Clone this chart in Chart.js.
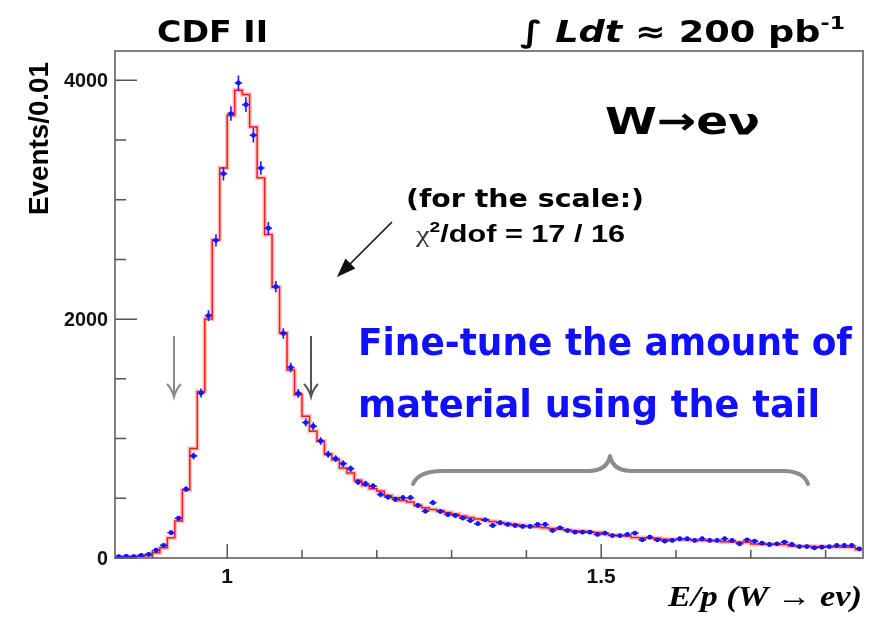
<!DOCTYPE html>
<html><head><meta charset="utf-8">
<script src="https://cdn.jsdelivr.net/npm/chart.js@4"></script>
<style>html,body{margin:0;padding:0;background:#fff;}#wrap{width:884px;height:618px;position:relative;}</style>
</head><body><div id="wrap"><canvas id="c" width="884" height="618"></canvas></div>
<script>
// ---- data ----
const binLowEdges = [
 0.85,0.86,0.87,0.88,0.89,0.90,0.91,0.92,0.93,0.94,
 0.95,0.96,0.97,0.98,0.99,1.00,1.01,1.02,1.03,1.04,
 1.05,1.06,1.07,1.08,1.09,1.10,1.11,1.12,1.13,1.14,
 1.15,1.16,1.17,1.18,1.19,1.20,1.21,1.22,1.23,1.24,
 1.25,1.26,1.27,1.28,1.29,1.30,1.31,1.32,1.33,1.34,
 1.35,1.36,1.37,1.38,1.39,1.40,1.41,1.42,1.43,1.44,
 1.45,1.46,1.47,1.48,1.49,1.50,1.51,1.52,1.53,1.54,
 1.55,1.56,1.57,1.58,1.59,1.60,1.61,1.62,1.63,1.64,
 1.65,1.66,1.67,1.68,1.69,1.70,1.71,1.72,1.73,1.74,
 1.75,1.76,1.77,1.78,1.79,1.80,1.81,1.82,1.83,1.84];
const binHalfWidth = 0.005;
const xRangeMax = 1.85;
// simulation histogram (red)
const mcValues = [
 8,8,10,14,20,45,86,170,310,570,
 917,1395,2001,2664,3265,3706,3916,3880,3609,3184,
 2709,2267,1886,1575,1366,1186,1061,977,868,823,
 753,711,650,608,580,560,524,505,482,468,
 440,421,407,395,380,366,352,340,327,316,
 306,297,289,281,273,266,259,253,247,241,
 235,229,223,218,213,200,190,186,185,172,
 170,168,165,158,155,154,152,148,147,146,
 145,137,135,134,132,118,116,115,113,112,
 100,99,98,97,96,93,92,91,90,72];
// data points (blue)
const dataValues = [
 12,14,12,22,31,65,106,212,333,576,
 855,1381,2029,2660,3218,3721,3977,3796,3539,3265,
 2761,2272,1880,1595,1378,1134,1103,980,868,832,
 790,748,636,622,602,532,510,490,505,505,
 440,392,463,390,364,356,334,314,287,320,
 272,295,281,272,264,264,281,281,230,253,
 230,216,216,216,197,208,188,188,197,208,
 152,174,152,141,147,161,161,147,161,147,
 147,161,147,119,152,141,124,113,119,133,
 113,96,96,85,91,96,105,105,105,77];
const xTickValues = [0.9,1.0,1.1,1.2,1.3,1.4,1.5,1.6,1.7,1.8];
const xMajorTicks = [1.0,1.5];
const xTickLabels = ['1','1.5'];
const yTickValues = [0,500,1000,1500,2000,2500,3000,3500,4000];
const yMajorTicks = [0,2000,4000];
const yTickLabels = ['0','2000','4000'];

// ---- helpers ----
function near(a,b){return Math.abs(a-b)<1e-9;}
function drawRich(ctx, segs, x, y, targetW, color){
  let total=0;
  segs.forEach(s=>{ctx.font=s.f; s.w=ctx.measureText(s.t).width; total+=s.w;});
  const k = targetW ? targetW/total : 1;
  ctx.save(); ctx.translate(x,y); ctx.scale(k,1);
  ctx.fillStyle=color; ctx.textBaseline='alphabetic'; ctx.textAlign='left';
  let cx=0;
  segs.forEach(s=>{ctx.font=s.f; ctx.fillStyle=s.c||color; ctx.fillText(s.t,cx,s.dy||0); cx+=s.w;});
  ctx.restore();
}

const centers = binLowEdges.map(e=>e+binHalfWidth);
const histPts = binLowEdges.map((e,i)=>({x:e,y:mcValues[i]}));
histPts.push({x:xRangeMax,y:mcValues[mcValues.length-1]});
const dataPts = centers.map((c,i)=>({x:c,y:dataValues[i]}));

const annot = {
  id:'annot',
  afterDatasetsDraw(chart){
    const ctx=chart.ctx, xs=chart.scales.x, ys=chart.scales.y;
    ctx.save();
    ctx.strokeStyle='#1a1aff'; ctx.lineWidth=1.6;
    dataPts.forEach(p=>{
      const px=xs.getPixelForValue(p.x), py=ys.getPixelForValue(p.y);
      const e=Math.sqrt(p.y);
      ctx.beginPath();
      ctx.moveTo(xs.getPixelForValue(p.x-binHalfWidth),py);
      ctx.lineTo(xs.getPixelForValue(p.x+binHalfWidth),py);
      ctx.moveTo(px,ys.getPixelForValue(p.y-e));
      ctx.lineTo(px,ys.getPixelForValue(p.y+e));
      ctx.stroke();
    });
    ctx.restore();
  },
  afterDraw(chart){
    const ctx=chart.ctx, a=chart.chartArea, xs=chart.scales.x, ys=chart.scales.y;
    ctx.save();
    // frame
    ctx.strokeStyle='#808080'; ctx.lineWidth=2;
    ctx.strokeRect(a.left,a.top,a.right-a.left,a.bottom-a.top);
    // ticks
    ctx.strokeStyle='#555'; ctx.lineWidth=1.5;
    ctx.beginPath();
    yTickValues.forEach(v=>{
      const py=ys.getPixelForValue(v);
      const L = yMajorTicks.some(m=>near(m,v)) ? 22 : 11;
      ctx.moveTo(a.left,py); ctx.lineTo(a.left+L,py);
    });
    xTickValues.forEach(v=>{
      const px=xs.getPixelForValue(v);
      const L = xMajorTicks.some(m=>near(m,v)) ? 14 : 8;
      ctx.moveTo(px,a.bottom); ctx.lineTo(px,a.bottom-L);
    });
    ctx.stroke();
    // tick labels (width-fitted, right aligned for y)
    yMajorTicks.forEach((v,i)=>{
      const t=yTickLabels[i], w=11*t.length;
      drawRich(ctx,[{t:t,f:'bold 20px "Liberation Sans"'}],a.left-7-w,ys.getPixelForValue(v)+7,w,'#111');
    });
    xMajorTicks.forEach((v,i)=>{
      const t=xTickLabels[i];
      ctx.font='bold 21px "Liberation Sans"';
      const w=ctx.measureText(t).width;
      drawRich(ctx,[{t:t,f:'bold 21px "Liberation Sans"'}],xs.getPixelForValue(v)-w/2,583,w,'#111');
    });

    // axis titles
    ctx.save();
    ctx.translate(48,215); ctx.rotate(-Math.PI/2);
    drawRich(ctx,[{t:'Events/0.01',f:'bold 27px "Liberation Sans"'}],0,0,153,'#000');
    ctx.restore();
    drawRich(ctx,[{t:'E/p (W \u2192 e\u03bd)',f:'italic bold 30px "Liberation Serif"'}],668,606,194,'#000');

    // header texts
    drawRich(ctx,[{t:'CDF II',f:'bold 30px "DejaVu Sans"'}],157,42,111,'#000');
    drawRich(ctx,[
      {t:'\u222b ',f:'bold 30px "DejaVu Sans"'},
      {t:'Ldt',f:'italic bold 30px "DejaVu Sans"'},
      {t:' \u2248 200 pb',f:'bold 30px "DejaVu Sans"'},
      {t:'-1',f:'bold 18px "DejaVu Sans"',dy:-13}],520,42,325,'#000');
    drawRich(ctx,[{t:'W\u2192e\u03bd',f:'bold 38px "DejaVu Sans"'}],605,134,155,'#000');
    drawRich(ctx,[{t:'(for the scale:)',f:'bold 25px "DejaVu Sans"'}],406,207,238,'#000');
    drawRich(ctx,[
      {t:'\u03c7',f:'24px "Liberation Serif"',c:'#333'},
      {t:'2',f:'bold 15px "Liberation Sans"',dy:-10},
      {t:'/dof = 17 / 16',f:'bold 24px "Liberation Sans"'}],416,242,209,'#000');
    drawRich(ctx,[{t:'Fine-tune the amount of',f:'bold 37px "DejaVu Sans"'}],358,355,494,'#1010ff');
    drawRich(ctx,[{t:'material using the tail',f:'bold 37px "DejaVu Sans"'}],358,417,462,'#1010ff');

    // black arrow
    ctx.strokeStyle='#111'; ctx.fillStyle='#111'; ctx.lineWidth=1.6;
    const x1=392,y1=222,x2=337,y2=277;
    const ang=Math.atan2(y2-y1,x2-x1);
    ctx.beginPath(); ctx.moveTo(x1,y1); ctx.lineTo(x2-12*Math.cos(ang),y2-12*Math.sin(ang)); ctx.stroke();
    ctx.beginPath(); ctx.moveTo(x2,y2);
    ctx.lineTo(x2-19*Math.cos(ang)+7*Math.sin(ang), y2-19*Math.sin(ang)-7*Math.cos(ang));
    ctx.lineTo(x2-19*Math.cos(ang)-7*Math.sin(ang), y2-19*Math.sin(ang)+7*Math.cos(ang));
    ctx.closePath(); ctx.fill();

    // gray down arrows
    [[174,'#8a8a8a'],[311,'#555']].forEach(([ax,col])=>{
      ctx.strokeStyle=col; ctx.lineWidth=2;
      ctx.beginPath(); ctx.moveTo(ax,336); ctx.lineTo(ax,396); ctx.stroke();
      ctx.beginPath(); ctx.moveTo(ax-7,384); ctx.quadraticCurveTo(ax-2,389,ax,397);
      ctx.quadraticCurveTo(ax+2,389,ax+7,384); ctx.stroke();
    });

    // brace
    ctx.strokeStyle='#8c8c8c'; ctx.lineWidth=4; ctx.lineCap='round'; ctx.lineJoin='round';
    ctx.beginPath();
    ctx.moveTo(413,484); ctx.quadraticCurveTo(419,471,442,471);
    ctx.lineTo(588,471); ctx.quadraticCurveTo(607,471,610,456);
    ctx.quadraticCurveTo(613,471,632,471);
    ctx.lineTo(784,471); ctx.quadraticCurveTo(803,471,808,484);
    ctx.stroke();
    ctx.restore();
  }
};

new Chart(document.getElementById('c'),{
  type:'scatter',
  data:{datasets:[
    {label:'data',data:dataPts,showLine:false,pointRadius:2.4,pointHoverRadius:2.4,
     pointBackgroundColor:'#0000ff',pointBorderWidth:0},
    {label:'sim',data:histPts,showLine:true,stepped:true,borderColor:'#ff1a1a',borderWidth:1.5,
     pointRadius:0,fill:false},
    {label:'simglow',data:histPts,showLine:true,stepped:true,borderColor:'rgba(255,90,90,0.35)',borderWidth:4.5,
     pointRadius:0,fill:false}
  ]},
  options:{
    responsive:false,animation:false,
    layout:{padding:{left:15,right:21,top:51,bottom:0}},
    plugins:{legend:{display:false},tooltip:{enabled:false}},
    scales:{
      x:{type:'linear',min:0.85,max:1.85,
        afterBuildTicks:s=>{s.ticks=xTickValues.map(v=>({value:v}));},
        afterFit:s=>{s.height=60;},
        grid:{display:false,drawTicks:false},border:{display:false},
        ticks:{display:false}},
      y:{type:'linear',min:0,max:4245,
        afterBuildTicks:s=>{s.ticks=yTickValues.map(v=>({value:v}));},
        afterFit:s=>{s.width=100;},
        grid:{display:false,drawTicks:false},border:{display:false},
        ticks:{display:false}}
    }
  },
  plugins:[annot]
});
</script></body></html>
